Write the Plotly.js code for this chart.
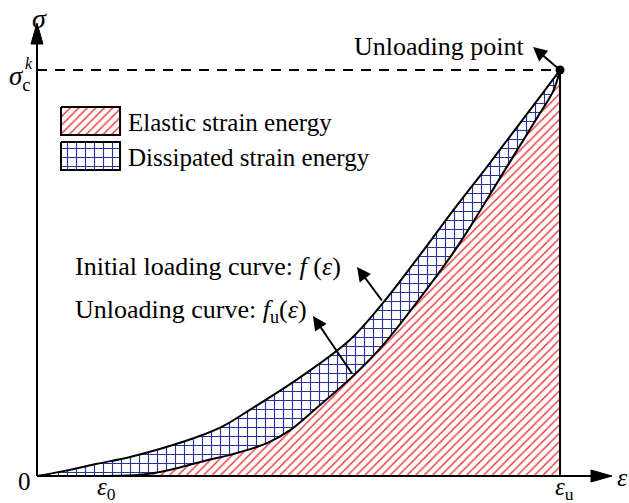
<!DOCTYPE html>
<html>
<head>
<meta charset="utf-8">
<script src="https://cdn.plot.ly/plotly-3.0.1.min.js"></script>
<style>
  html, body { margin: 0; padding: 0; background: #ffffff; }
  #chart { width: 629px; height: 503px; }
</style>
</head>
<body>
<div id="chart"></div>
<script>
// Normalised strain (ε / εu) and stress (σ / σc^k) of the two curves
const loadStrain   = [0, 0.050, 0.115, 0.178, 0.241, 0.306, 0.356, 0.407, 0.503, 0.598, 0.660, 0.732, 0.795, 0.860, 0.924, 0.967, 1];
const loadStress   = [0, 0.012, 0.030, 0.047, 0.069, 0.096, 0.123, 0.163, 0.243, 0.335, 0.424, 0.544, 0.653, 0.761, 0.870, 0.943, 1];
const unloadStrain = [0.134, 0.197, 0.235, 0.273, 0.325, 0.369, 0.440, 0.484, 0.535, 0.604, 0.662, 0.727, 0.790, 0.828, 0.891, 0.956, 0.987, 1];
const unloadStress = [0, 0.003, 0.010, 0.021, 0.039, 0.052, 0.081, 0.113, 0.168, 0.246, 0.323, 0.429, 0.539, 0.613, 0.746, 0.882, 0.948, 1];

const xTickLabels = ['0', '<i>ε</i><sub>0</sub>', '<i>ε</i><sub>u</sub>'];
const legendLabels = ['Elastic strain energy', 'Dissipated strain energy'];
const curveLabels = ['Initial loading curve: <i>f</i> (<i>ε</i>)', 'Unloading curve: <i>f</i><sub>u</sub>(<i>ε</i>)'];
const pointLabel = 'Unloading point';

const eps0 = unloadStrain[0];
const epsU = loadStrain[loadStrain.length - 1];
const sigPeak = loadStress[loadStress.length - 1];

// ---- frame geometry (pixels) ----
const W = 629, H = 503;
const O = { x: 37, y: 476 };      // origin
const UX = 523, UY = 406;         // pixels per unit strain / stress
const toX = px => (px - O.x) / UX;
const toY = py => (O.y - py) / UY;
const pX = px => px / W;          // paper coords (no margins)
const pY = py => 1 - py / H;
const dataPxX = v => O.x + v * UX;
const dataPxY = v => O.y - v * UY;

const SERIF = 'Liberation Serif, Times New Roman, serif';
const RED = '#e8292c';
const BLUE = '#26369a';

const redPattern  = { shape: '/', fgcolor: RED,  bgcolor: '#ffffff', size: 6, solidity: 0.22 };
const bluePattern = { shape: '+', fgcolor: BLUE, bgcolor: '#ffffff', size: 9, solidity: 0.24 };

const smoothLine = { shape: 'spline', smoothing: 1 };
const traces = [];

// elastic energy: area under the unloading curve
traces.push({
  x: unloadStrain, y: unloadStress,
  mode: 'lines', fill: 'tozeroy', line: Object.assign({ width: 0, color: 'rgba(0,0,0,0)' }, smoothLine),
  fillcolor: '#ffffff', fillpattern: redPattern, hoverinfo: 'skip', showlegend: false
});

// loading curve (upper bound of the dissipated area)
traces.push({
  x: loadStrain, y: loadStress, mode: 'lines',
  line: Object.assign({ color: 'rgba(0,0,0,0)', width: 0 }, smoothLine),
  showlegend: false, hoverinfo: 'skip'
});

// dissipated energy: between loading and unloading curves
traces.push({
  x: unloadStrain, y: unloadStress,
  mode: 'lines', fill: 'tonexty', line: Object.assign({ width: 0, color: 'rgba(0,0,0,0)' }, smoothLine),
  fillcolor: '#ffffff', fillpattern: bluePattern, hoverinfo: 'skip', showlegend: false
});

// curve outlines
traces.push({ x: loadStrain, y: loadStress, mode: 'lines', line: Object.assign({ color: '#000', width: 2 }, smoothLine), showlegend: false, hoverinfo: 'skip' });
traces.push({ x: unloadStrain, y: unloadStress, mode: 'lines', line: Object.assign({ color: '#000', width: 2 }, smoothLine), showlegend: false, hoverinfo: 'skip' });

// unloading point
traces.push({ x: [epsU], y: [sigPeak], mode: 'markers', marker: { color: '#000', size: 9 }, showlegend: false, hoverinfo: 'skip', cliponaxis: false });

// legend swatches
const swatches = [
  { x0: 61, x1: 120, y0: 107, y1: 135, pat: redPattern },
  { x0: 61, x1: 120, y0: 142, y1: 170, pat: bluePattern }
];
swatches.forEach(s => {
  traces.push({
    x: [toX(s.x0), toX(s.x1), toX(s.x1), toX(s.x0), toX(s.x0)],
    y: [toY(s.y0), toY(s.y0), toY(s.y1), toY(s.y1), toY(s.y0)],
    mode: 'lines', fill: 'toself', line: { color: '#000', width: 2 },
    fillcolor: '#ffffff', fillpattern: s.pat, showlegend: false, hoverinfo: 'skip'
  });
});

// ---- shapes ----
const shapes = [];
const line = (x0, y0, x1, y1, extra) => Object.assign({
  type: 'line', xref: 'paper', yref: 'paper',
  x0: pX(x0), y0: pY(y0), x1: pX(x1), y1: pY(y1),
  line: { color: '#000', width: 2 }
}, extra || {});

// axes
shapes.push(line(O.x, O.y, O.x, 40));
shapes.push(line(O.x, O.y, 596, O.y));
// arrow heads of the axes
const tri = (a, b, c) => ({
  type: 'path', xref: 'paper', yref: 'paper',
  path: `M${pX(a[0])},${pY(a[1])} L${pX(b[0])},${pY(b[1])} L${pX(c[0])},${pY(c[1])} Z`,
  fillcolor: '#000', line: { color: '#000', width: 1 }
});
shapes.push(tri([O.x, 23], [O.x - 6, 44], [O.x + 6, 44]));
shapes.push(tri([612, O.y], [591, O.y - 6], [591, O.y + 6]));
// peak stress guide and unloading strain line
shapes.push(line(O.x, dataPxY(sigPeak), dataPxX(epsU), dataPxY(sigPeak), { line: { color: '#000', width: 2, dash: '10px,8px' } }));
shapes.push(line(dataPxX(epsU), dataPxY(sigPeak), dataPxX(epsU), O.y));

// ---- annotations ----
const ann = [];
const txt = (text, px, py, size, extra) => Object.assign({
  text, xref: 'paper', yref: 'paper', x: pX(px), y: pY(py),
  xanchor: 'center', yanchor: 'middle', showarrow: false,
  font: { family: SERIF, size, color: '#000' }
}, extra || {});

ann.push(txt('<i>σ</i>', 39, 18, 28));
ann.push(txt('<i>ε</i>', 622, 477, 26));
ann.push(txt(xTickLabels[0], 24, 481, 25));
ann.push(txt(xTickLabels[1], dataPxX(eps0) - 1, 488, 25));
ann.push(txt(xTickLabels[2], dataPxX(epsU) + 4, 488, 25));
ann.push(txt('<i>σ</i><sub>c</sub>', 20, 78, 27));
ann.push(txt('<i>k</i>', 29, 64, 16));

ann.push(txt(legendLabels[0], 126, 122, 25, { xanchor: 'left' }));
ann.push(txt(legendLabels[1], 126, 157, 25, { xanchor: 'left' }));
ann.push(txt(curveLabels[0], 73, 266, 26, { xanchor: 'left' }));
ann.push(txt(curveLabels[1], 73, 311, 26, { xanchor: 'left' }));
ann.push(txt(pointLabel, 526, 47, 26, { xanchor: 'right' }));

const arrow = (hx, hy, tx, ty) => ({
  text: '', xref: 'paper', yref: 'paper', x: pX(hx), y: pY(hy),
  ax: tx - hx, ay: ty - hy, showarrow: true,
  arrowhead: 2, arrowsize: 1.4, arrowwidth: 2, arrowcolor: '#000', standoff: 0, startstandoff: 0
});
ann.push(arrow(533, 47, dataPxX(epsU), dataPxY(sigPeak)));
ann.push(arrow(357, 267, 383, 302));
ann.push(arrow(313, 316, 353, 375));

const axisCommon = { showgrid: false, zeroline: false, showticklabels: false, showline: false, ticks: '', fixedrange: true };

const layout = {
  width: W, height: H,
  margin: { l: 0, r: 0, t: 0, b: 0, pad: 0 },
  paper_bgcolor: '#ffffff', plot_bgcolor: '#ffffff',
  xaxis: Object.assign({ range: [toX(0), toX(W)] }, axisCommon),
  yaxis: Object.assign({ range: [toY(H), toY(0)] }, axisCommon),
  shapes, annotations: ann, showlegend: false
};

Plotly.newPlot('chart', traces, layout, { staticPlot: true, displayModeBar: false });
</script>
</body>
</html>
